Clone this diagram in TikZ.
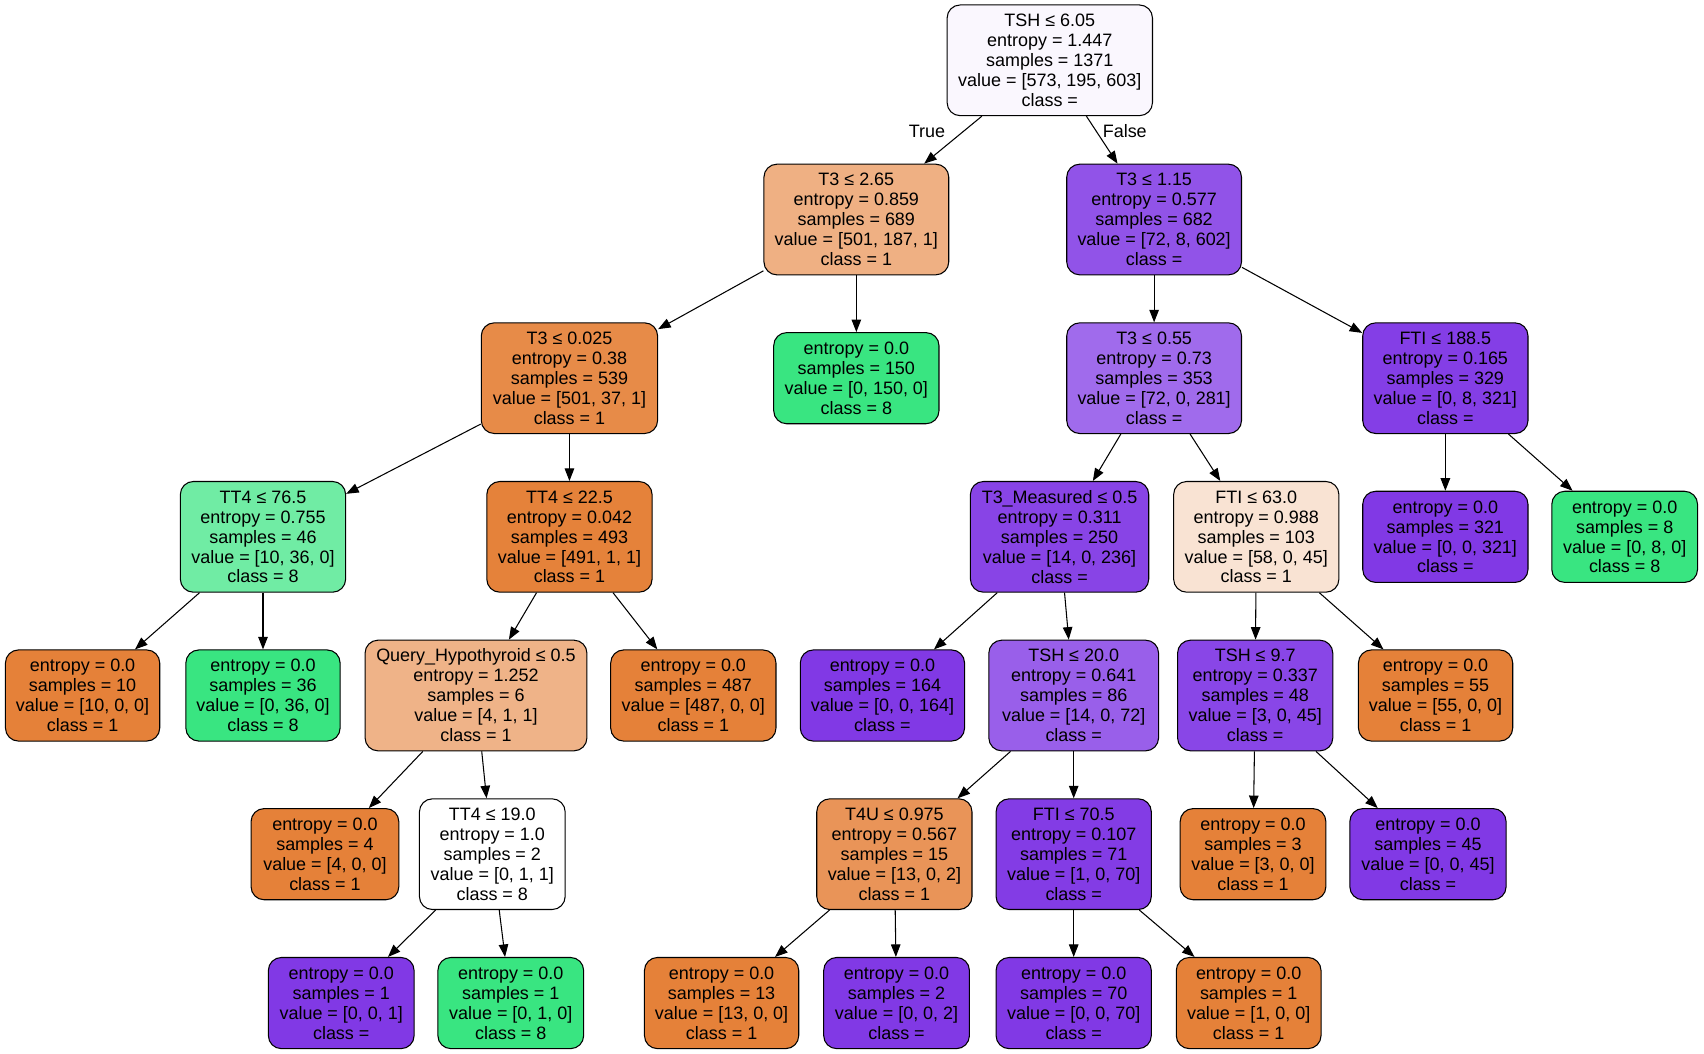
\documentclass[tikz,border=0pt]{standalone}
\usepackage{fontspec}
\setmainfont{Liberation Sans}
\usetikzlibrary{arrows.meta}
\definecolor{cOrange}{HTML}{E58139}
\definecolor{cGreen}{HTML}{39E581}
\definecolor{cPurple}{HTML}{8139E5}
\definecolor{cA}{HTML}{FAF7FE}
\definecolor{cB}{HTML}{EFB083}
\definecolor{cC}{HTML}{9153E8}
\definecolor{cD}{HTML}{E78B48}
\definecolor{cE}{HTML}{A06BEC}
\definecolor{cF}{HTML}{843EE6}
\definecolor{cG}{HTML}{70ECA4}
\definecolor{cH}{HTML}{E5823A}
\definecolor{cI}{HTML}{8844E6}
\definecolor{cJ}{HTML}{F9E3D3}
\definecolor{cK}{HTML}{EFB388}
\definecolor{cL}{HTML}{995FEA}
\definecolor{cM}{HTML}{8946E7}
\definecolor{cN}{HTML}{E99458}
\definecolor{cP}{HTML}{833CE5}
\tikzset{
  split/.style={draw,line width=0.6pt,rounded corners=0.26cm,align=center,inner sep=0pt,
    font=\fontsize{10.2}{11.35}\selectfont,minimum height=2.21cm},
  leaf/.style={split,minimum height=1.82cm},
  edge/.style={line width=0.6pt,-{Triangle[length=0.25cm,width=0.19cm]}},
  lbl/.style={font=\fontsize{10.2}{11.35}\selectfont,inner sep=0pt}
}
\begin{document}
\begin{tikzpicture}[x=0.0217cm,y=-0.0217cm]
\useasboundingbox (0,0) rectangle (1568,969);
%Goc
\node[split,fill=cA,minimum width=4.10cm] (n0) at (966,55.5) {TSH ≤ 6.05\\entropy = 1.447\\samples = 1371\\value = [573, 195, 603]\\class = };
%Tang 2
\node[split,fill=cB,minimum width=3.69cm] (n1) at (788,202) {T3 ≤ 2.65\\entropy = 0.859\\samples = 689\\value = [501, 187, 1]\\class = 1};
\node[split,fill=cC,minimum width=3.49cm] (n14) at (1062,202) {T3 ≤ 1.15\\entropy = 0.577\\samples = 682\\value = [72, 8, 602]\\class = };
%Tang 3
\node[split,fill=cD,minimum width=3.52cm] (n2) at (524,348) {T3 ≤ 0.025\\entropy = 0.38\\samples = 539\\value = [501, 37, 1]\\class = 1};
\node[leaf,fill=cGreen,minimum width=3.30cm] (n13) at (788,348) {entropy = 0.0\\samples = 150\\value = [0, 150, 0]\\class = 8};
\node[split,fill=cE,minimum width=3.49cm] (n15) at (1062,348) {T3 ≤ 0.55\\entropy = 0.73\\samples = 353\\value = [72, 0, 281]\\class = };
\node[split,fill=cF,minimum width=3.30cm] (n30) at (1330,348) {FTI ≤ 188.5\\entropy = 0.165\\samples = 329\\value = [0, 8, 321]\\class = };
%Tang 4
\node[split,fill=cG,minimum width=3.30cm] (n3) at (242,494) {TT4 ≤ 76.5\\entropy = 0.755\\samples = 46\\value = [10, 36, 0]\\class = 8};
\node[split,fill=cH,minimum width=3.30cm] (n6) at (524,494) {TT4 ≤ 22.5\\entropy = 0.042\\samples = 493\\value = [491, 1, 1]\\class = 1};
\node[split,fill=cI,minimum width=3.56cm] (n16) at (975,494) {T3\_Measured ≤ 0.5\\entropy = 0.311\\samples = 250\\value = [14, 0, 236]\\class = };
\node[split,fill=cJ,minimum width=3.30cm] (n25) at (1156,494) {FTI ≤ 63.0\\entropy = 0.988\\samples = 103\\value = [58, 0, 45]\\class = 1};
\node[leaf,fill=cPurple,minimum width=3.30cm] (n31) at (1330,494) {entropy = 0.0\\samples = 321\\value = [0, 0, 321]\\class = };
\node[leaf,fill=cGreen,minimum width=2.91cm] (n32) at (1495,494) {entropy = 0.0\\samples = 8\\value = [0, 8, 0]\\class = 8};
%Tang 5
\node[leaf,fill=cOrange,minimum width=3.08cm] (n4) at (76,640) {entropy = 0.0\\samples = 10\\value = [10, 0, 0]\\class = 1};
\node[leaf,fill=cGreen,minimum width=3.08cm] (n5) at (242,640) {entropy = 0.0\\samples = 36\\value = [0, 36, 0]\\class = 8};
\node[split,fill=cK,minimum width=4.43cm] (n7) at (438,640) {Query\_Hypothyroid ≤ 0.5\\entropy = 1.252\\samples = 6\\value = [4, 1, 1]\\class = 1};
\node[leaf,fill=cOrange,minimum width=3.30cm] (n12) at (638,640) {entropy = 0.0\\samples = 487\\value = [487, 0, 0]\\class = 1};
\node[leaf,fill=cPurple,minimum width=3.28cm] (n17) at (812,640) {entropy = 0.0\\samples = 164\\value = [0, 0, 164]\\class = };
\node[split,fill=cL,minimum width=3.39cm] (n18) at (988,640) {TSH ≤ 20.0\\entropy = 0.641\\samples = 86\\value = [14, 0, 72]\\class = };
\node[split,fill=cM,minimum width=3.10cm] (n26) at (1155,640) {TSH ≤ 9.7\\entropy = 0.337\\samples = 48\\value = [3, 0, 45]\\class = };
\node[leaf,fill=cOrange,minimum width=3.08cm] (n29) at (1321,640) {entropy = 0.0\\samples = 55\\value = [55, 0, 0]\\class = 1};
%Tang 6
\node[leaf,fill=cOrange,minimum width=2.95cm] (n8) at (299,786) {entropy = 0.0\\samples = 4\\value = [4, 0, 0]\\class = 1};
\node[split,fill=white,minimum width=2.91cm] (n9) at (453,786) {TT4 ≤ 19.0\\entropy = 1.0\\samples = 2\\value = [0, 1, 1]\\class = 8};
\node[split,fill=cN,minimum width=3.10cm] (n19) at (823,786) {T4U ≤ 0.975\\entropy = 0.567\\samples = 15\\value = [13, 0, 2]\\class = 1};
\node[split,fill=cP,minimum width=3.10cm] (n22) at (988,786) {FTI ≤ 70.5\\entropy = 0.107\\samples = 71\\value = [1, 0, 70]\\class = };
\node[leaf,fill=cOrange,minimum width=2.91cm] (n27) at (1153,786) {entropy = 0.0\\samples = 3\\value = [3, 0, 0]\\class = 1};
\node[leaf,fill=cPurple,minimum width=3.12cm] (n28) at (1314,786) {entropy = 0.0\\samples = 45\\value = [0, 0, 45]\\class = };
%Tang 7
\node[leaf,fill=cPurple,minimum width=2.91cm] (n10) at (314,923) {entropy = 0.0\\samples = 1\\value = [0, 0, 1]\\class = };
\node[leaf,fill=cGreen,minimum width=2.91cm] (n11) at (470,923) {entropy = 0.0\\samples = 1\\value = [0, 1, 0]\\class = 8};
\node[leaf,fill=cOrange,minimum width=3.08cm] (n20) at (664,923) {entropy = 0.0\\samples = 13\\value = [13, 0, 0]\\class = 1};
\node[leaf,fill=cPurple,minimum width=2.91cm] (n21) at (825,923) {entropy = 0.0\\samples = 2\\value = [0, 0, 2]\\class = };
\node[leaf,fill=cPurple,minimum width=3.10cm] (n23) at (988,923) {entropy = 0.0\\samples = 70\\value = [0, 0, 70]\\class = };
\node[leaf,fill=cOrange,minimum width=2.89cm] (n24) at (1149,923) {entropy = 0.0\\samples = 1\\value = [1, 0, 0]\\class = 1};
%Mui ten
\draw[edge] (n0) -- (n1);
\draw[edge] (n0) -- (n14);
\node[lbl] (ltrue) at (853,121) {True};
\node[lbl] (lfalse) at (1035,121) {False};
\draw[edge] (n1) -- (n2);
\draw[edge] (n1) -- (n13);
\draw[edge] (n2) -- (n3);
\draw[edge] (n2) -- (n6);
\draw[edge] (n3) -- (n4);
\draw[edge] (n3) -- (n5);
\draw[edge] (n6) -- (n7);
\draw[edge] (n6) -- (n12);
\draw[edge] (n7) -- (n8);
\draw[edge] (n7) -- (n9);
\draw[edge] (n9) -- (n10);
\draw[edge] (n9) -- (n11);
\draw[edge] (n14) -- (n15);
\draw[edge] (n14) -- (n30);
\draw[edge] (n15) -- (n16);
\draw[edge] (n15) -- (n25);
\draw[edge] (n16) -- (n17);
\draw[edge] (n16) -- (n18);
\draw[edge] (n18) -- (n19);
\draw[edge] (n18) -- (n22);
\draw[edge] (n19) -- (n20);
\draw[edge] (n19) -- (n21);
\draw[edge] (n22) -- (n23);
\draw[edge] (n22) -- (n24);
\draw[edge] (n25) -- (n26);
\draw[edge] (n25) -- (n29);
\draw[edge] (n26) -- (n27);
\draw[edge] (n26) -- (n28);
\draw[edge] (n30) -- (n31);
\draw[edge] (n30) -- (n32);
\end{tikzpicture}
\end{document}
